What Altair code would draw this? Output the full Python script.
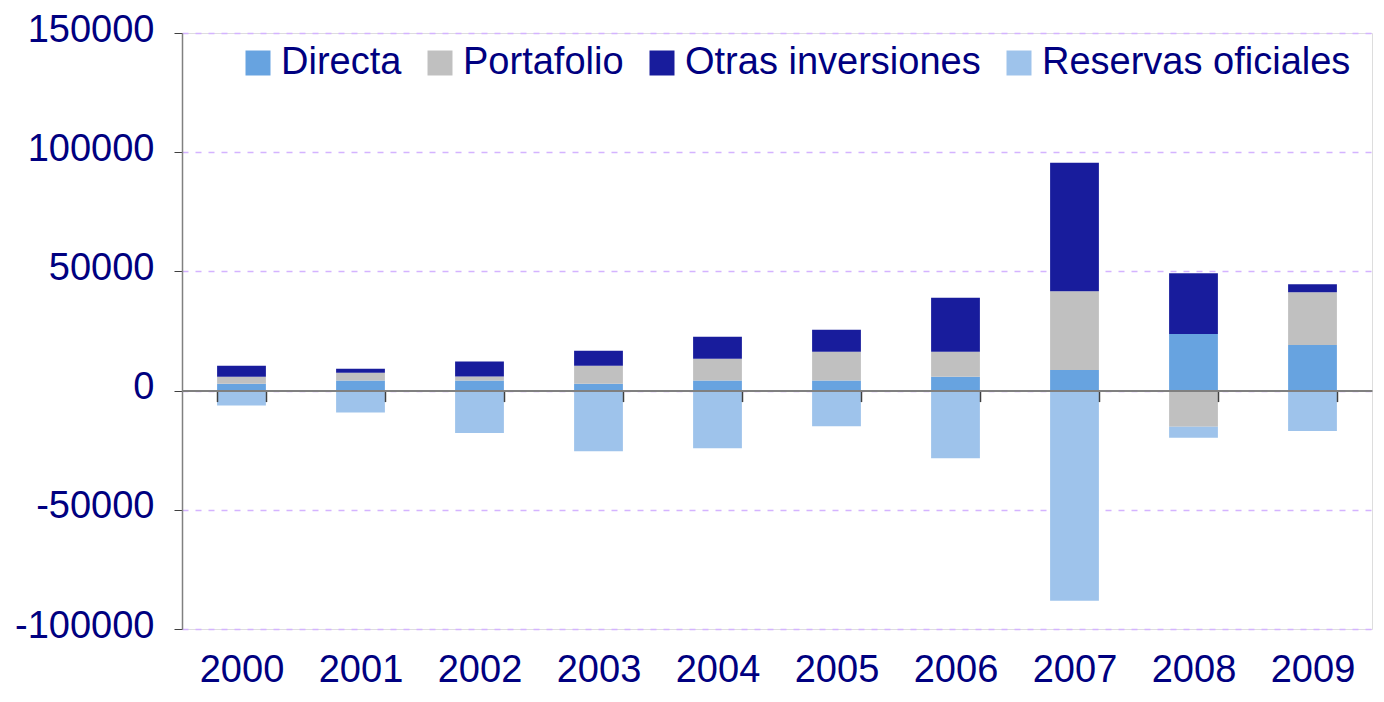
import altair as alt
import pandas as pd

years = ["2000", "2001", "2002", "2003", "2004", "2005", "2006", "2007", "2008", "2009"]
series = ["Directa", "Portafolio", "Otras inversiones", "Reservas oficiales"]
directa = [2900, 4200, 4200, 2900, 4200, 4200, 5850, 8650, 23700, 19100]
portafolio = [2900, 3300, 1700, 7500, 9200, 12100, 10450, 33000, -15200, 22200]
otras = [4600, 1700, 6300, 6300, 9200, 9200, 22600, 53900, 25500, 3300]
reservas = [-6300, -9200, -17800, -25400, -24200, -15000, -28400, -88200, -4600, -16900]
colors = ["#67A3E0", "#C0C0C0", "#181C9C", "#9EC3EB"]
y_ticks = [-100000, -50000, 0, 50000, 100000, 150000]

rows = []
for i, y in enumerate(years):
    for k, (name, vals) in enumerate(zip(series, [directa, portafolio, otras, reservas])):
        rows.append({"year": y, "serie": name, "value": vals[i], "ord": k})
df = pd.DataFrame(rows)

W, H = 1190, 596
ymin, ymax = -100000, 150000
zero_offset = -H * (0 - ymin) / (ymax - ymin)

font = "Liberation Sans"
navy = "#000080"

bars = alt.Chart(df).mark_bar().encode(
    x=alt.X("year:N", sort=years,
            scale=alt.Scale(paddingInner=0.59, paddingOuter=0.295),
            axis=alt.Axis(title=None, orient="bottom", offset=zero_offset,
                          domain=True, domainColor="#808080", domainWidth=2,
                          ticks=True, tickBand="extent", tickSize=11,
                          tickColor="#404040", tickWidth=1.5,
                          labelPadding=250, labelAngle=0, labelFont=font,
                          labelFontSize=38, labelColor=navy, grid=False,
                          zindex=1)),
    y=alt.Y("value:Q", stack="zero",
            scale=alt.Scale(domain=[ymin, ymax], nice=False, zero=False),
            axis=alt.Axis(title=None, values=y_ticks, labelExpr="toString(datum.value)",
                          domain=True, domainColor="#808080", domainWidth=1.5,
                          ticks=True, tickSize=8, tickColor="#404040",
                          labelPadding=20, labelOffset=-3, labelFont=font,
                          labelFontSize=38, labelColor=navy,
                          grid=True, gridColor="#D4B3FF", gridDash=[6, 7],
                          gridWidth=1.5)),
    color=alt.Color("serie:N", sort=series,
                    scale=alt.Scale(domain=series, range=colors),
                    legend=alt.Legend(title=None, orient="none", direction="horizontal",
                                      columns=4, legendX=50, legendY=4,
                                      symbolType="square", symbolSize=625,
                                      symbolStrokeWidth=0, symbolOpacity=1,
                                      labelFont=font, labelFontSize=38,
                                      labelColor=navy, labelLimit=0,
                                      labelOffset=4, columnPadding=19,
                                      padding=7, fillColor="white")),
    order=alt.Order("ord:Q", sort="ascending"),
)

chart = bars.properties(
    width=W, height=H,
    autosize=alt.AutoSizeParams(type="none"),
    padding={"left": 174, "top": 25, "right": 2, "bottom": 63},
).configure_view(stroke=None).configure(background="white")

chart.save("out.html", embed_options={"renderer": "svg", "actions": False})
